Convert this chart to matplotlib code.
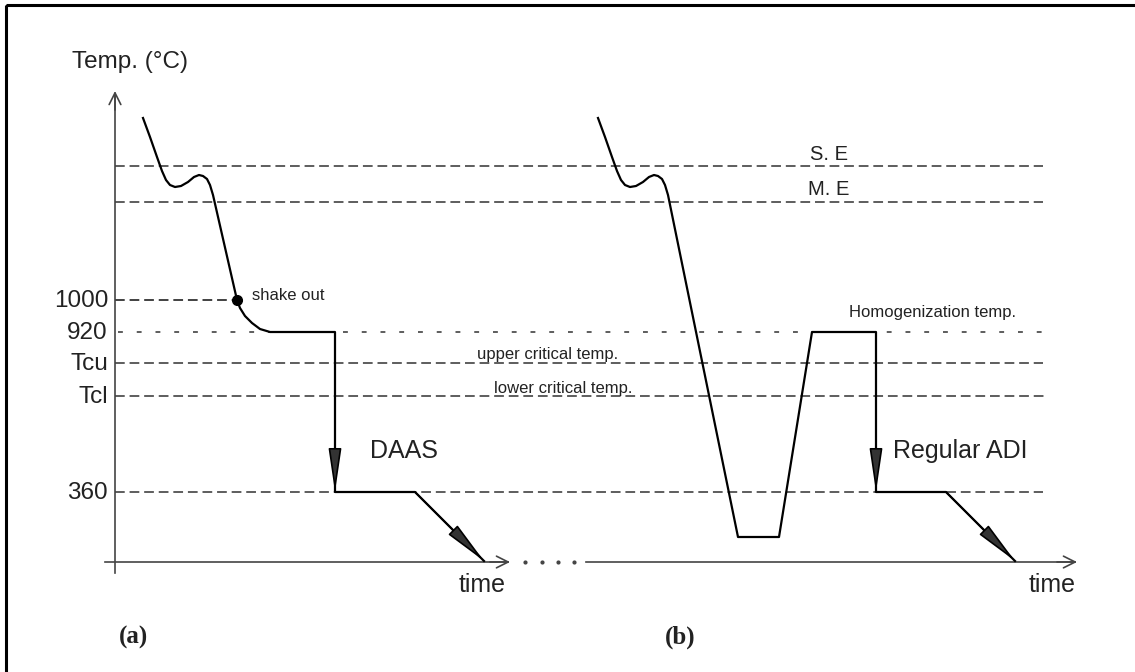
import matplotlib
matplotlib.use('Agg')
import matplotlib.pyplot as plt
from matplotlib.patches import Rectangle

plt.rcParams['font.family'] = ['Liberation Sans', 'DejaVu Sans']
plt.rcParams['lines.scale_dashes'] = False

# drawing units = pixels of the original sketch, y grows downward

# temperature levels (y) and their left labels
tick_labels = ['1000', '920', 'Tcu', 'Tcl', '360']
tick_y = [300, 332, 363, 396, 492]

# long dashed reference lines: S.E, M.E, Tcu, Tcl, 360
ref_y = [166, 202, 363, 396, 492]
ref_end = [1043, 1043, 1043, 1048, 1043]
homog_y = 332          # 920 line, sparse dashes
shake_y = 300          # 1000 line, only up to shake out point

# (a) DAAS route
a_t = [143, 150, 157, 162, 166, 170, 175, 181, 188, 194, 199, 203, 207, 210, 213,
       237, 240, 245, 252, 260, 270, 335, 335, 415, 484]
a_T = [118, 137, 157, 171, 180, 185, 187, 186, 182, 177, 175, 176, 179, 185, 195,
       300, 308, 316, 323, 329, 332, 332, 492, 492, 561]
shake_pt = (237, 300)

# (b) regular ADI route
b_t = [598, 605, 612, 617, 621, 625, 630, 636, 643, 649, 654, 658, 662, 665, 668,
       738, 779, 812, 876, 876, 946, 1015]
b_T = [118, 137, 157, 171, 180, 185, 187, 186, 182, 177, 175, 176, 179, 185, 195,
       537, 537, 332, 332, 492, 492, 561]

fig = plt.figure(figsize=(11.35, 6.72), dpi=100)
ax = fig.add_axes([0, 0, 1, 1])
ax.set_xlim(0, 1135)
ax.set_ylim(672, 0)
ax.axis('off')

# frame
ax.add_patch(Rectangle((6, 5), 1140, 680, fill=False, ec='k', lw=2.2))

grey = '#505050'
for y, x1 in zip(ref_y, ref_end):
    ax.plot([115, x1], [y, y], color=grey, lw=1.3, ls=(0, (7, 3.5)))
ax.plot([118, 1043], [homog_y, homog_y], color=grey, lw=1.3, ls=(0, (3.5, 10)))
ax.plot([115, shake_pt[0]], [shake_y, shake_y], color='#333333', lw=1.3, ls=(0, (7, 3.5)))

# axes
axc = '#444444'
ax.plot([115, 115], [573, 95], color=axc, lw=1.2)
ax.annotate('', xy=(115, 91), xytext=(115, 110),
            arrowprops=dict(arrowstyle='->,head_length=0.7,head_width=0.35', mutation_scale=12,
                            color=axc, lw=1.2, shrinkA=0, shrinkB=0))
for x0, x1 in [(105, 510), (586, 1077)]:
    ax.plot([x0, x1 - 2], [562, 562], color=axc, lw=1.2)
    ax.annotate('', xy=(x1, 562), xytext=(x1 - 20, 562),
                arrowprops=dict(arrowstyle='->,head_length=0.7,head_width=0.35', mutation_scale=12,
                                color=axc, lw=1.2, shrinkA=0, shrinkB=0))
ax.plot([525, 542, 558, 574], [562] * 4, ls='none', marker='o', ms=2, color=axc)

# curves
ax.plot(a_t, a_T, color='k', lw=1.6, solid_joinstyle='round')
ax.plot(b_t, b_T, color='k', lw=1.6, solid_joinstyle='round')
ax.plot(*shake_pt, 'o', color='k', ms=7)

head = dict(arrowstyle='-|>,head_length=1.35,head_width=0.2', mutation_scale=20,
            fc='#333333', ec='k', lw=1.2, shrinkA=0, shrinkB=0)
for t, T in [(a_t, a_T), (b_t, b_T)]:
    ax.annotate('', xy=(t[-4], T[-3]), xytext=(t[-4], T[-3] - 40), arrowprops=head)
    ax.annotate('', xy=(t[-1], T[-1]), xytext=(t[-2], T[-2]), arrowprops=head)

# labels
tc = '#222222'
ax.text(72, 62, 'Temp. (°C)', fontsize=17.5, color=tc, va='center', ha='left')
for lab, y in zip(tick_labels, tick_y):
    ax.text(108, y + 1, lab, fontsize=17.5, color=tc, ha='right', va='center')

ax.text(829, 160, 'S. E', fontsize=14.5, color=tc, ha='center', va='baseline')
ax.text(829, 195, 'M. E', fontsize=14.5, color=tc, ha='center', va='baseline')
ax.text(252, 300, 'shake out', fontsize=12, color=tc, ha='left', va='baseline')
ax.text(849, 317, 'Homogenization temp.', fontsize=12, color=tc, ha='left', va='baseline')
ax.text(477, 359, 'upper critical temp.', fontsize=12, color=tc, ha='left', va='baseline')
ax.text(494, 393, 'lower critical temp.', fontsize=12, color=tc, ha='left', va='baseline')
ax.text(370, 451, 'DAAS', fontsize=18, color=tc, ha='left', va='center')
ax.text(893, 451, 'Regular ADI', fontsize=18, color=tc, ha='left', va='center')
ax.text(482, 585, 'time', fontsize=18, color=tc, ha='center', va='center')
ax.text(1052, 585, 'time', fontsize=18, color=tc, ha='center', va='center')

ax.text(133, 637, '(a)', fontsize=18, fontweight='bold', family='Liberation Serif',
        color=tc, ha='center', va='center')
ax.text(680, 637, '(b)', fontsize=18, fontweight='bold', family='Liberation Serif',
        color=tc, ha='center', va='center')

fig.savefig('out.png', dpi=100)
